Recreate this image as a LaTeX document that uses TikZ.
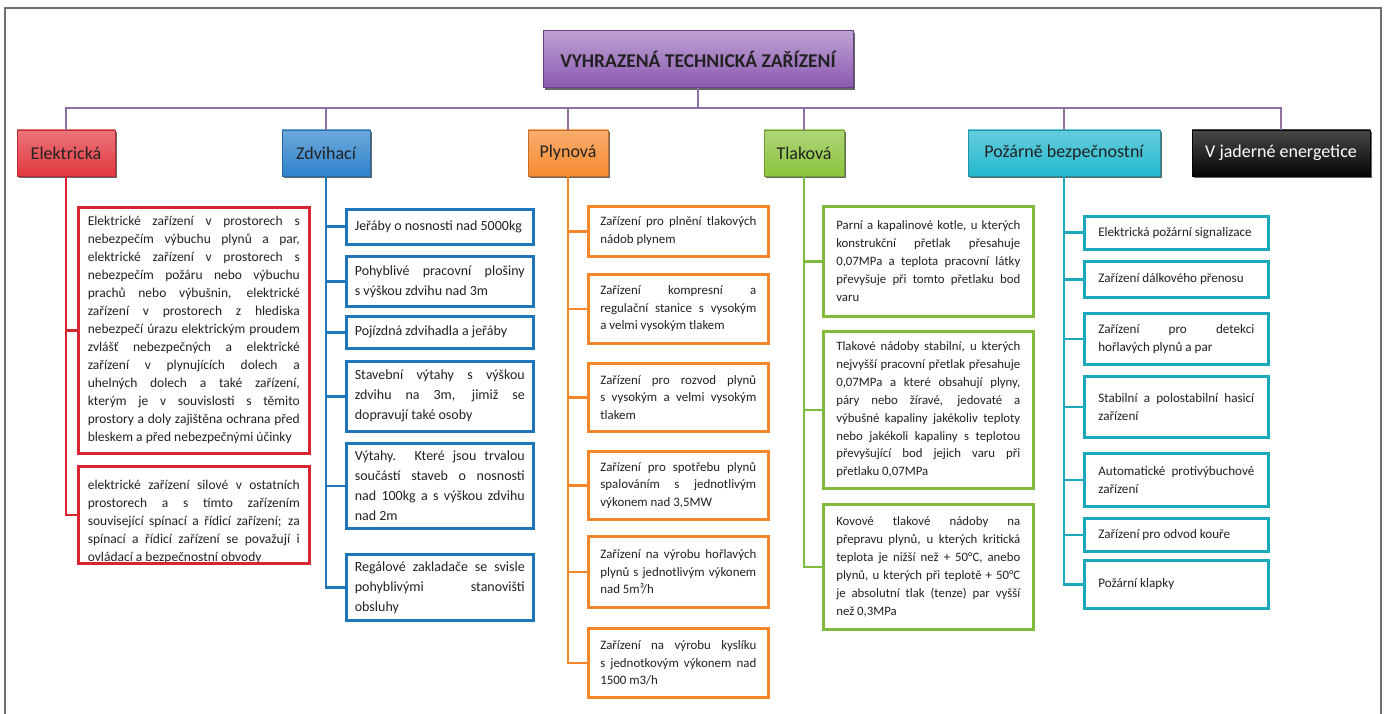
\documentclass[tikz,border=0pt]{standalone}
\usepackage{fontspec}
\setmainfont{Carlito}
\usepackage{xcolor}
\usepackage{tikz}
\usetikzlibrary{
  positioning,
  shadows,
}
\definecolor{ink}{HTML}{222222}
\definecolor{frameline}{HTML}{707070}
\definecolor{busline}{HTML}{8F70A3}
\definecolor{titleviolet}{HTML}{8A58B0}
\definecolor{elred}{HTML}{E23840}
\definecolor{elredline}{HTML}{D72631}
\definecolor{liftblue}{HTML}{2F83CC}
\definecolor{liftblueline}{HTML}{1F76BA}
\definecolor{gasorange}{HTML}{F68A30}
\definecolor{gasorangeline}{HTML}{F7862B}
\definecolor{presgreen}{HTML}{8CC43E}
\definecolor{presgreenline}{HTML}{80BC3C}
\definecolor{firecyan}{HTML}{24B8CE}
\definecolor{firecyanline}{HTML}{1BA8BB}
\definecolor{nuclear}{HTML}{050505}
\tolerance=10000
\hbadness=10000
\hyphenpenalty=10000
\exhyphenpenalty=10000
\tikzset{
  every node/.append style={text=ink},
  headbox/.style={
    draw=titleviolet!75!black,
    line width=0.6pt,
    top color=titleviolet!55!white,
    bottom color=titleviolet,
    minimum width=310,
    minimum height=57,
    font=\fontsize{19.5}{22}\selectfont\bfseries,
    drop shadow={shadow xshift=1.5pt, shadow yshift=-2.5pt, opacity=0.6, fill=black},
  },
  catbox/.style={
    draw=#1!80!black,
    line width=0.6pt,
    top color=#1!70!white,
    bottom color=#1,
    minimum height=46,
    inner sep=2pt,
    font=\fontsize{18}{21}\selectfont,
    drop shadow={shadow xshift=1.5pt, shadow yshift=-2.5pt, opacity=0.6, fill=black},
  },
  itembox/.style={
    draw=#1,
    line width=2.6pt,
    fill=white,
    anchor=north west,
    align=justify,
    inner ysep=0pt,
  },
  trunk/.style={draw=#1, line width=2.6pt},
  bus/.style={draw=busline, line width=2pt},
}
\begin{document}
\begin{tikzpicture}[x=1pt,y=-1pt]
  \useasboundingbox (0,0) rectangle (1387,714);
  \draw[frameline, line width=1.2pt] (5,8) rectangle (1381,722);

  % Title and categories
  \node[headbox] (title) at (698,59) {VYHRAZENÁ TECHNICKÁ ZAŘÍZENÍ};
  \coordinate (bus) at (0,108);

  \node[catbox=elred, minimum width=98] (elek) at (66,153) {Elektrická};
  \node[catbox=liftblue, minimum width=88] (zdvih) at (326,153) {Zdvihací};
  \node[catbox=gasorange, minimum width=80] (plyn) at (568,153) {Plynová};
  \node[catbox=presgreen, minimum width=80] (tlak) at (804,153) {Tlaková};
  \node[catbox=firecyan, minimum width=192] (pozar) at (1064,153) {Požárně bezpečnostní};
  \node[catbox=nuclear, top color=black!72, text=white, minimum width=178] (jader) at (1281,153) {V jaderné energetice};

  \draw[bus] (title.south) -- (title.south |- bus);
  \draw[bus] (elek.north) -- (elek.north |- bus) -- (jader.north |- bus) -- (jader.north);
  \foreach \c in {zdvih,plyn,tlak,pozar}
    \draw[bus] (\c.north) -- (\c.north |- bus);

  % Elektrická
  \begin{scope}[every node/.append style={text width=212, inner xsep=9.5, font=\fontsize{13.5}{18}\selectfont}]
    \node[itembox=elredline, minimum height=246] (e1) at (77,206) {Elektrické zařízení v prostorech s\linebreak nebezpečím výbuchu plynů a par,\linebreak elektrické zařízení v prostorech s\linebreak nebezpečím požáru nebo výbuchu\linebreak prachů nebo výbušnin, elektrické\linebreak zařízení v prostorech z hlediska\linebreak nebezpečí úrazu elektrickým proudem\linebreak zvlášť nebezpečných a elektrické\linebreak zařízení v plynujících dolech a\linebreak uhelných dolech a také zařízení,\linebreak kterým je v souvislosti s těmito\linebreak prostory a doly zajištěna ochrana před\linebreak bleskem a před nebezpečnými účinky};
    \begin{scope}
      \clip (77,465) rectangle (308,561);
      \node[itembox=elredline, draw=none, inner ysep=14] (e2text) at (77,465) {elektrické zařízení silové v ostatních\linebreak prostorech a s tímto zařízením\linebreak související spínací a řídicí zařízení; za\linebreak spínací a řídicí zařízení se považují i\linebreak ovládací a bezpečnostní obvody};
    \end{scope}
    \node[itembox=elredline, fill=none, minimum height=97] (e2) at (77,465) {};
  \end{scope}
  \draw[trunk=elredline] (elek.south) |- (e2.west);
  \draw[trunk=elredline] (elek.south |- e1.west) -- (e1.west);

  % Zdvihací
  \begin{scope}[every node/.append style={text width=170, inner xsep=8.5, font=\fontsize{14}{20}\selectfont}]
    \node[itembox=liftblueline, minimum height=35] (z1) at (345,208) {Jeřáby o nosnosti nad 5000kg};
    \node[itembox=liftblueline, minimum height=50] (z2) at (345,255) {Pohyblivé pracovní plošiny\linebreak s výškou zdvihu nad 3m};
    \node[itembox=liftblueline, minimum height=32] (z3) at (345,315) {Pojízdná zdvihadla a jeřáby};
    \node[itembox=liftblueline, minimum height=70] (z4) at (345,360) {Stavební výtahy s výškou\linebreak zdvihu na 3m, jimiž se\linebreak dopravují také osoby};
    \node[itembox=liftblueline, minimum height=85] (z5) at (345,442) {Výtahy. Které jsou trvalou\linebreak součástí staveb o nosnosti\linebreak nad 100kg a s výškou zdvihu\linebreak nad 2m};
    \node[itembox=liftblueline, minimum height=66] (z6) at (345,553) {Regálové zakladače se svisle\linebreak pohyblivými stanovišti\linebreak obsluhy};
  \end{scope}
  \draw[trunk=liftblueline] (zdvih.south) |- (z6.west);
  \foreach \b in {z1,z2,z3,z4,z5}
    \draw[trunk=liftblueline] (zdvih.south |- \b.west) -- (\b.west);

  % Plynová
  \begin{scope}[every node/.append style={text width=156, inner xsep=12, font=\fontsize{12.9}{17.5}\selectfont}]
    \node[itembox=gasorangeline, minimum height=50] (p1) at (587,205) {Zařízení pro plnění tlakových\linebreak nádob plynem};
    \node[itembox=gasorangeline, minimum height=69] (p2) at (587,273) {Zařízení kompresní a\linebreak regulační stanice s vysokým\linebreak a velmi vysokým tlakem};
    \node[itembox=gasorangeline, minimum height=68] (p3) at (587,362) {Zařízení pro rozvod plynů\linebreak s vysokým a velmi vysokým\linebreak tlakem};
    \node[itembox=gasorangeline, minimum height=68] (p4) at (587,450) {Zařízení pro spotřebu plynů\linebreak spalováním s jednotlivým\linebreak výkonem nad 3,5MW};
    \node[itembox=gasorangeline, minimum height=71] (p5) at (587,535) {Zařízení na výrobu hořlavých\linebreak plynů s jednotlivým výkonem\linebreak nad 5m³/h};
    \node[itembox=gasorangeline, minimum height=69] (p6) at (587,627) {Zařízení na výrobu kyslíku\linebreak s jednotkovým výkonem nad\linebreak 1500 m3/h};
  \end{scope}
  \draw[trunk=gasorangeline] (plyn.south) |- (p6.west);
  \foreach \b in {p1,p2,p3,p4,p5}
    \draw[trunk=gasorangeline] (plyn.south |- \b.west) -- (\b.west);

  % Tlaková
  \begin{scope}[every node/.append style={text width=184, inner xsep=13, font=\fontsize{12.8}{17.9}\selectfont}]
    \node[itembox=presgreenline, minimum height=110] (t1) at (822,205) {Parní a kapalinové kotle, u kterých\linebreak konstrukční přetlak přesahuje\linebreak 0,07MPa a teplota pracovní látky\linebreak převyšuje při tomto přetlaku bod\linebreak varu};
    \node[itembox=presgreenline, minimum height=157] (t2) at (822,330) {Tlakové nádoby stabilní, u kterých\linebreak nejvyšší pracovní přetlak přesahuje\linebreak 0,07MPa a které obsahují plyny,\linebreak páry nebo žíravé, jedovaté a\linebreak výbušné kapaliny jakékoliv teploty\linebreak nebo jakékoli kapaliny s teplotou\linebreak převyšující bod jejich varu při\linebreak přetlaku 0,07MPa};
    \node[itembox=presgreenline, minimum height=125] (t3) at (822,503) {Kovové tlakové nádoby na\linebreak přepravu plynů, u kterých kritická\linebreak teplota je nižší než + 50°C, anebo\linebreak plynů, u kterých při teplotě + 50°C\linebreak je absolutní tlak (tenze) par vyšší\linebreak než 0,3MPa};
  \end{scope}
  \draw[trunk=presgreenline] (tlak.south) |- (t3.west);
  \foreach \b in {t1,t2}
    \draw[trunk=presgreenline] (tlak.south |- \b.west) -- (\b.west);

  % Požárně bezpečnostní
  \begin{scope}[every node/.append style={text width=156, inner xsep=14, font=\fontsize{13.1}{17.7}\selectfont}]
    \node[itembox=firecyanline, minimum height=33] (c1) at (1083,215) {Elektrická požární signalizace};
    \node[itembox=firecyanline, minimum height=36] (c2) at (1083,260) {Zařízení dálkového přenosu};
    \node[itembox=firecyanline, minimum height=51] (c3) at (1083,312) {Zařízení pro detekci\linebreak hořlavých plynů a par};
    \node[itembox=firecyanline, minimum height=61] (c4) at (1083,375) {Stabilní a polostabilní hasicí\linebreak zařízení};
    \node[itembox=firecyanline, minimum height=53] (c5) at (1083,452) {Automatické protivýbuchové\linebreak zařízení};
    \node[itembox=firecyanline, minimum height=33] (c6) at (1083,517) {Zařízení pro odvod kouře};
    \node[itembox=firecyanline, minimum height=48] (c7) at (1083,559) {Požární klapky};
  \end{scope}
  \draw[trunk=firecyanline] (pozar.south) |- (c7.west);
  \foreach \b in {c1,c2,c3,c4,c5,c6}
    \draw[trunk=firecyanline] (pozar.south |- \b.west) -- (\b.west);
\end{tikzpicture}
\end{document}
